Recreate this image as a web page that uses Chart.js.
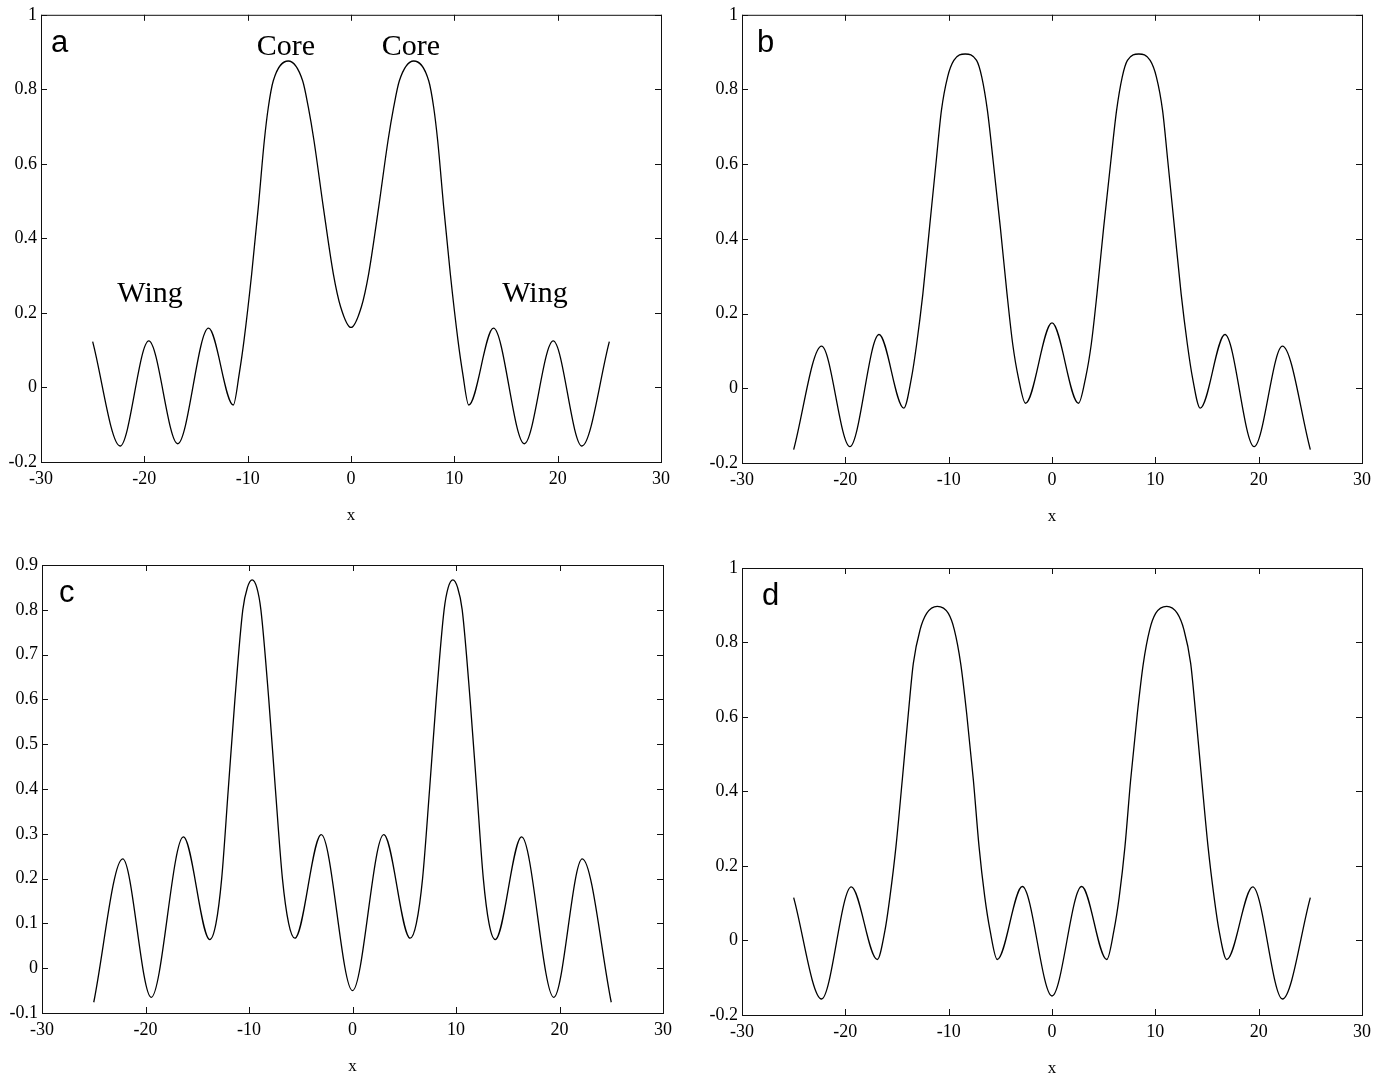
<!DOCTYPE html>
<html>
<head>
<meta charset="utf-8">
<script src="https://cdn.jsdelivr.net/npm/chart.js@4.4.1/dist/chart.umd.min.js"></script>
<style>
  html, body { margin: 0; padding: 0; background: #fff; }
  #wrap { position: relative; width: 1385px; height: 1076px; }
  #wrap canvas { position: absolute; }
</style>
</head>
<body>
<div id="wrap">
  <canvas id="panelA" width="690" height="540" style="left:0;top:0"></canvas>
  <canvas id="panelB" width="695" height="540" style="left:690px;top:0"></canvas>
  <canvas id="panelC" width="690" height="536" style="left:0;top:540px"></canvas>
  <canvas id="panelD" width="695" height="536" style="left:690px;top:540px"></canvas>
</div>
<script>
// profile a: extrema plus flank readings, left to right
const xA = [-25, -22.34, -19.57, -16.77, -13.79, -11.39, -10.81, -10.35, -9.61, -8.97, -8.39, -8.0, -7.52, -6.07,
            -4.68, -4.13, -3.58, -2.68, -1.71, -1.0, 0,
            1.0, 1.71, 2.68, 3.58, 4.13, 4.68, 6.07, 7.52, 8.0, 8.39, 8.97, 9.61, 10.35, 10.81, 11.39,
            13.79, 16.77, 19.57, 22.34, 25];
const yA = [0.123, -0.157, 0.125, -0.151, 0.159, -0.047, 0.038, 0.127, 0.305, 0.484, 0.662, 0.752, 0.823, 0.876,
            0.823, 0.752, 0.662, 0.484, 0.305, 0.216, 0.161,
            0.216, 0.305, 0.484, 0.662, 0.752, 0.823, 0.876, 0.823, 0.752, 0.662, 0.484, 0.305, 0.127, 0.038, -0.047,
            0.159, -0.151, 0.125, -0.157, 0.123];

// profile b
const xB = [-25, -22.3, -19.56, -16.74, -14.34, -13.6, -13.1, -12.5, -11.85, -11.2, -10.7, -10.1, -9.5, -8.4,
            -7.3, -6.8, -6.25, -5.7, -5.0, -4.35, -3.8, -3.25, -2.57, 0,
            2.57, 3.25, 3.8, 4.35, 5.0, 5.7, 6.25, 6.8, 7.3, 8.4,
            9.5, 10.1, 10.7, 11.2, 11.85, 12.5, 13.1, 13.6, 14.34, 16.74, 19.56, 22.3, 25];
const yB = [-0.164, 0.113, -0.156, 0.144, -0.053, 0.028, 0.118, 0.252, 0.431, 0.61, 0.744, 0.834, 0.878, 0.895,
            0.878, 0.834, 0.744, 0.61, 0.431, 0.252, 0.118, 0.028, -0.04, 0.175,
            -0.04, 0.028, 0.118, 0.252, 0.431, 0.61, 0.744, 0.834, 0.878, 0.895,
            0.878, 0.834, 0.744, 0.61, 0.431, 0.252, 0.118, 0.028, -0.053, 0.144, -0.156, 0.113, -0.164];

// profile c
const xC = [-25, -22.2, -19.45, -16.34, -13.79, -13.19, -12.64, -12.0, -11.36, -10.6, -10.15, -9.7, -9.25, -8.85,
            -8.09, -7.45, -6.77, -6.17, -5.57, -3.02, 0,
            3.02, 5.57, 6.17, 6.77, 7.45, 8.09, 8.85, 9.25, 9.7, 10.15,
            10.6, 11.36, 12.0, 12.64, 13.19, 13.79, 16.34, 19.45, 22.2, 25];
const yC = [-0.076, 0.244, -0.065, 0.293, 0.064, 0.1, 0.2, 0.4, 0.6, 0.8, 0.85, 0.867, 0.85, 0.8,
            0.6, 0.4, 0.2, 0.1, 0.067, 0.298, -0.05,
            0.298, 0.067, 0.1, 0.2, 0.4, 0.6, 0.8, 0.85, 0.867, 0.85,
            0.8, 0.6, 0.4, 0.2, 0.1, 0.064, 0.293, -0.065, 0.244, -0.076];

// profile d
const xD = [-25, -22.3, -19.43, -16.91, -16.16, -15.68, -15.1, -14.49, -13.9, -13.42, -12.77, -12.13, -11.1,
            -10.03, -9.45, -8.84, -8.26, -7.61, -7.06, -6.51, -6.0, -5.3, -2.87, 0,
            2.87, 5.3, 6.0, 6.51, 7.06, 7.61, 8.26, 8.84, 9.45, 10.03, 11.1,
            12.13, 12.77, 13.42, 13.9, 14.49, 15.1, 15.68, 16.16, 16.91, 19.43, 22.3, 25];
const yD = [0.115, -0.157, 0.144, -0.051, 0.028, 0.118, 0.252, 0.431, 0.61, 0.744, 0.834, 0.878, 0.897,
            0.878, 0.834, 0.744, 0.61, 0.431, 0.252, 0.118, 0.028, -0.051, 0.145, -0.149,
            0.145, -0.051, 0.028, 0.118, 0.252, 0.431, 0.61, 0.744, 0.834, 0.878, 0.897,
            0.878, 0.834, 0.744, 0.61, 0.431, 0.252, 0.118, 0.028, -0.051, 0.144, -0.157, 0.115];

const xTicks = [-30, -20, -10, 0, 10, 20, 30];
const yTicksABD = [-0.2, 0, 0.2, 0.4, 0.6, 0.8, 1];
const yTicksC = [-0.1, 0, 0.1, 0.2, 0.3, 0.4, 0.5, 0.6, 0.7, 0.8, 0.9];

const panelLetters = ['a', 'b', 'c', 'd'];
const xTitle = 'x';
const notesA = [
  { text: 'Core', x: -6.3, y: 0.893 },
  { text: 'Core', x: 5.8, y: 0.893 },
  { text: 'Wing', x: -19.45, y: 0.23 },
  { text: 'Wing', x: 17.8, y: 0.23 }
];

const SERIF = '"Liberation Serif", "Times New Roman", serif';
const SANS = '"Liberation Sans", Arial, sans-serif';

// box, inward ticks on all four sides, letter, axis title and notes
const framePlugin = {
  id: 'frame',
  afterDraw(chart, args, opts) {
    const { ctx, chartArea: a, scales: { x, y } } = chart;
    const tl = 6;
    ctx.save();
    ctx.strokeStyle = '#111';
    ctx.lineWidth = 1;
    ctx.strokeRect(a.left + 0.5, a.top + 0.5, a.right - a.left, a.bottom - a.top);
    ctx.beginPath();
    x.ticks.forEach((t) => {
      const px = Math.round(x.getPixelForValue(t.value)) + 0.5;
      ctx.moveTo(px, a.bottom); ctx.lineTo(px, a.bottom - tl);
      ctx.moveTo(px, a.top); ctx.lineTo(px, a.top + tl);
    });
    y.ticks.forEach((t) => {
      const py = Math.round(y.getPixelForValue(t.value)) + 0.5;
      ctx.moveTo(a.left, py); ctx.lineTo(a.left + tl, py);
      ctx.moveTo(a.right, py); ctx.lineTo(a.right - tl, py);
    });
    ctx.stroke();

    ctx.fillStyle = '#000';
    ctx.textBaseline = 'alphabetic';
    ctx.textAlign = 'left';
    ctx.font = '31px ' + SANS;
    ctx.fillText(opts.letter, a.left + opts.letterDx, a.top + opts.letterDy);

    ctx.textAlign = 'center';
    ctx.textBaseline = 'middle';
    ctx.font = '17px ' + SERIF;
    ctx.fillText(xTitle, (a.left + a.right) / 2, a.bottom + 54);

    ctx.textBaseline = 'alphabetic';
    ctx.font = '30px ' + SERIF;
    (opts.notes || []).forEach((n) => {
      ctx.fillText(n.text, x.getPixelForValue(n.x), y.getPixelForValue(n.y));
    });
    ctx.restore();
  }
};

function fmt(v) {
  const r = Math.round(v * 10) / 10;
  return r === 0 ? '0' : String(r);
}

function makePanel(id, xs, ys, yTicks, box) {
  const pts = xs.map((v, i) => ({ x: v, y: ys[i] }));
  const tickFont = { family: SERIF, size: 18 };
  return new Chart(document.getElementById(id), {
    type: 'line',
    data: {
      datasets: [{
        data: pts,
        borderColor: '#000',
        borderWidth: 1.3,
        pointRadius: 0,
        fill: false,
        cubicInterpolationMode: 'monotone'
      }]
    },
    options: {
      responsive: false,
      animation: false,
      devicePixelRatio: 1,
      layout: { padding: { top: box.top, right: box.right, left: 0, bottom: 0 } },
      plugins: {
        legend: { display: false },
        tooltip: { enabled: false },
        frame: { letter: box.letter, letterDx: box.dx, letterDy: box.dy, notes: box.notes }
      },
      scales: {
        x: {
          type: 'linear',
          min: xTicks[0],
          max: xTicks[xTicks.length - 1],
          afterBuildTicks: (s) => { s.ticks = xTicks.map((v) => ({ value: v })); },
          ticks: { font: tickFont, color: '#000', padding: 6, maxRotation: 0, callback: (v) => String(v) },
          grid: { display: false, drawTicks: false },
          border: { display: false },
          afterFit: (s) => { s.height = box.xh; }
        },
        y: {
          type: 'linear',
          min: yTicks[0],
          max: yTicks[yTicks.length - 1],
          afterBuildTicks: (s) => { s.ticks = yTicks.map((v) => ({ value: v })); },
          ticks: { font: tickFont, color: '#000', padding: 4, callback: fmt },
          grid: { display: false, drawTicks: false },
          border: { display: false },
          afterFit: (s) => { s.width = box.yw; }
        }
      }
    },
    plugins: [framePlugin]
  });
}

makePanel('panelA', xA, yA, yTicksABD, { top: 14, right: 29, yw: 41, xh: 78, letter: panelLetters[0], dx: 10, dy: 37, notes: notesA });
makePanel('panelB', xB, yB, yTicksABD, { top: 14, right: 23, yw: 52, xh: 77, letter: panelLetters[1], dx: 15, dy: 37 });
makePanel('panelC', xC, yC, yTicksC, { top: 25, right: 27, yw: 42, xh: 63, letter: panelLetters[2], dx: 17, dy: 37 });
makePanel('panelD', xD, yD, yTicksABD, { top: 28, right: 23, yw: 52, xh: 61, letter: panelLetters[3], dx: 20, dy: 37 });
</script>
</body>
</html>
